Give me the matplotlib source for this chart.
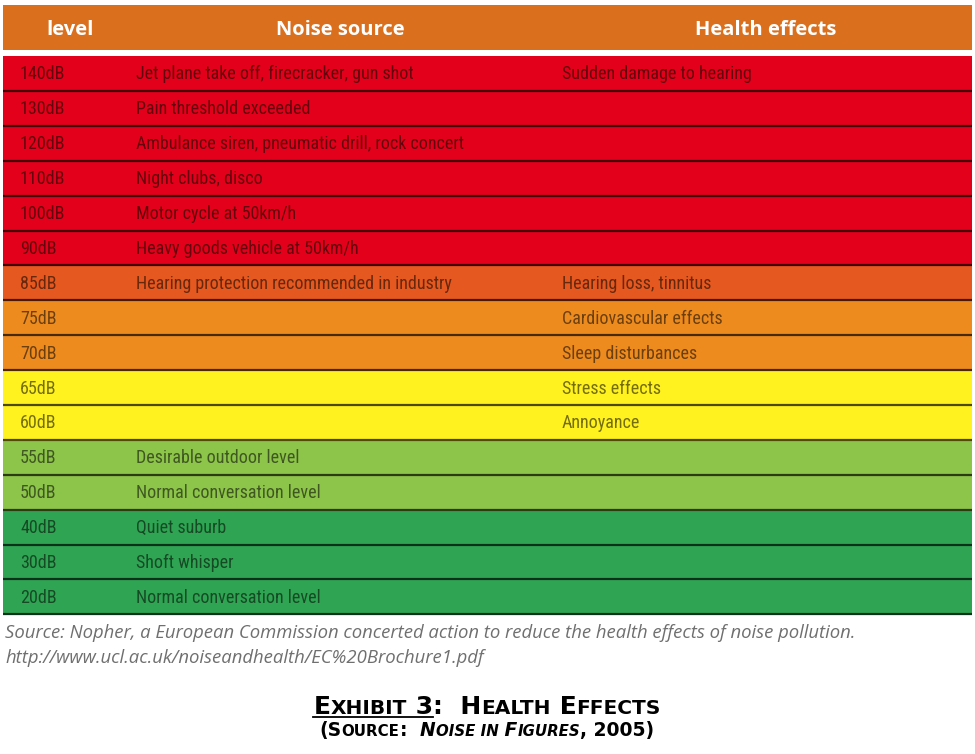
import matplotlib
matplotlib.use('Agg')
import matplotlib.pyplot as plt
from matplotlib.patches import Rectangle
from matplotlib.colors import to_rgb
from matplotlib import font_manager

levels = ['140dB', '130dB', '120dB', '110dB', '100dB', '90dB', '85dB', '75dB',
          '70dB', '65dB', '60dB', '55dB', '50dB', '40dB', '30dB', '20dB']
sources = ['Jet plane take off, firecracker, gun shot', 'Pain threshold exceeded',
           'Ambulance siren, pneumatic drill, rock concert', 'Night clubs, disco',
           'Motor cycle at 50km/h', 'Heavy goods vehicle at 50km/h',
           'Hearing protection recommended in industry', '', '', '', '',
           'Desirable outdoor level', 'Normal conversation level', 'Quiet suburb',
           'Shoft whisper', 'Normal conversation level']
effects = ['Sudden damage to hearing', '', '', '', '', '', 'Hearing loss, tinnitus',
           'Cardiovascular effects', 'Sleep disturbances', 'Stress effects',
           'Annoyance', '', '', '', '', '']
headers = ['level', 'Noise source', 'Health effects']

row_colors = ['#e2001a'] * 6 + ['#e5581f'] + ['#ee8b1f'] * 2 + ['#fff21f'] * 2 \
    + ['#8dc44a'] * 2 + ['#2fa553'] * 3
header_color = '#da701d'

W, H = 975, 754
fig = plt.figure(figsize=(W / 100, H / 100), dpi=100)
ax = fig.add_axes([0, 0, 1, 1])
ax.set_xlim(0, W)
ax.set_ylim(H, 0)
ax.axis('off')

# pick the narrowest family that is installed
installed = {f.name for f in font_manager.fontManager.ttflist}
narrow = 'Roboto'
for fam in ['Roboto Condensed', 'DejaVu Sans Condensed', 'Liberation Sans Narrow',
            'Open Sans Condensed', 'Roboto']:
    if fam in installed:
        narrow = fam
        break
row_size = {'Roboto Condensed': 13, 'DejaVu Sans Condensed': 11.5,
            'Liberation Sans Narrow': 12.5}.get(narrow, 11.5)


def darker(c, f):
    r, g, b = to_rgb(c)
    return (r * f, g * f, b * f)


# header band
ax.add_patch(Rectangle((3, 5), 969, 45, color=header_color, lw=0))
for x, h in zip([70, 340, 766], headers):
    ax.text(x, 30, h, ha='center', va='center', color='white',
            fontsize=14.5, fontweight='bold', family=['Open Sans', 'DejaVu Sans'])

# rows
top, rh = 56, 34.9
cols = [20, 136, 562]
for i, (lv, src, eff) in enumerate(zip(levels, sources, effects)):
    y0 = top + i * rh
    c = row_colors[i]
    ax.add_patch(Rectangle((3, y0), 969, rh, color=c, lw=0))
    ax.plot([3, 972], [y0 + rh, y0 + rh], color=darker(c, 0.3), lw=1.6,
            solid_capstyle='butt')
    tc = darker(c, 0.45)
    for x, s in zip(cols, [lv, src, eff]):
        if s:
            ax.text(x, y0 + rh / 2 + 1, s, ha='left', va='center', color=tc,
                    fontsize=row_size, family=[narrow, 'DejaVu Sans'])

# source note
note_font = ['Open Sans', 'DejaVu Sans']
ax.text(5, 633, 'Source: Nopher, a European Commission concerted action to reduce '
        'the health effects of noise pollution.', ha='left', va='center',
        color='#6f6f6f', fontsize=13.3, style='italic', family=note_font)
ax.text(5, 658, 'http://www.ucl.ac.uk/noiseandhealth/EC%20Brochure1.pdf',
        ha='left', va='center', color='#6f6f6f', fontsize=13.3,
        style='italic', family=note_font)

renderer = fig.canvas.get_renderer()


def small_caps(segments, xc, y, weight, underline_upto=None):
    # segments: (text, size, style)
    objs = []
    for s, size, st in segments:
        t = ax.text(0, y, s, ha='left', va='baseline', fontsize=size,
                    style=st, color='black', fontweight=weight,
                    family='DejaVu Sans')
        objs.append(t)
    widths = [t.get_window_extent(renderer).width for t in objs]
    x = xc - sum(widths) / 2
    x_start = x
    for k, (t, w) in enumerate(zip(objs, widths)):
        t.set_x(x)
        x += w
        if underline_upto is not None and k == underline_upto:
            ax.plot([x_start, x], [y + 3, y + 3], color='black', lw=1.3)


big, sm = 18, 14.5
small_caps([('E', big, 'normal'), ('XHIBIT', sm, 'normal'), (' 3', big, 'normal'),
            (':  H', big, 'normal'), ('EALTH', sm, 'normal'), (' E', big, 'normal'),
            ('FFECTS', sm, 'normal')], 487, 714, 'bold', underline_upto=2)
b2, s2 = 13.5, 10.8
small_caps([('(S', b2, 'normal'), ('OURCE', s2, 'normal'), (':  ', b2, 'normal'),
            ('N', b2, 'italic'), ('OISE IN', s2, 'italic'), (' F', b2, 'italic'),
            ('IGURES', s2, 'italic'), (', 2005)', b2, 'normal')], 487, 736, 'bold')

fig.savefig('out.png', dpi=100)
